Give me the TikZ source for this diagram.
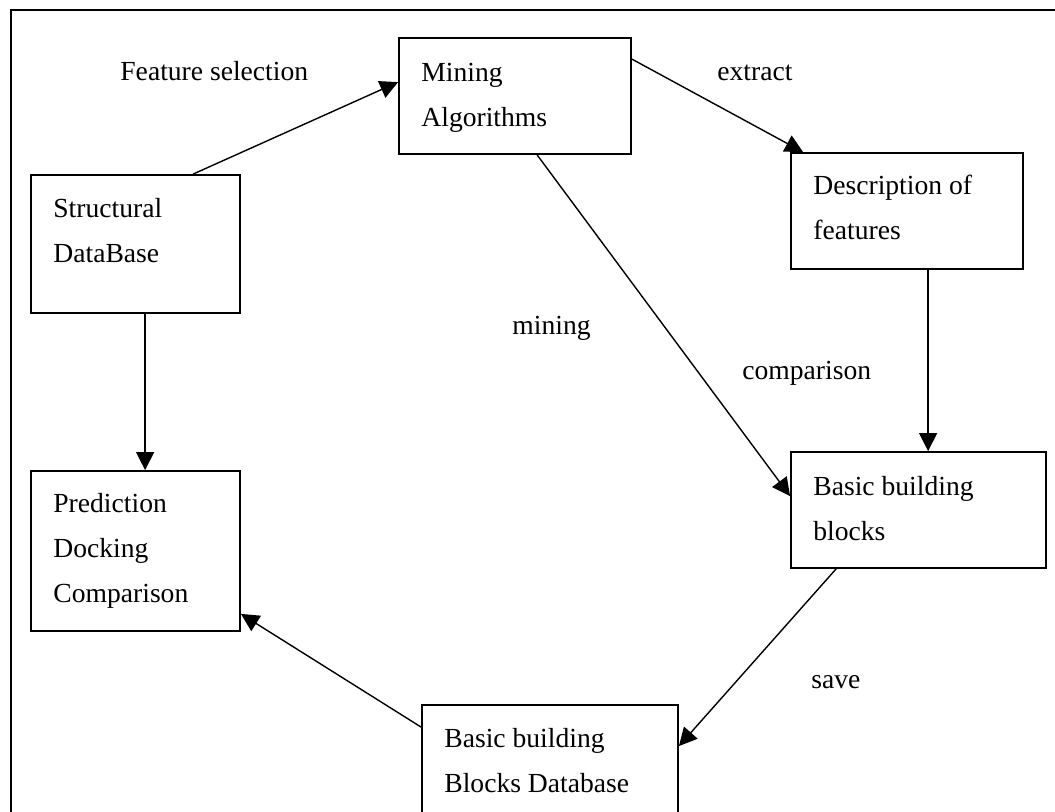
\documentclass[tikz,border=0pt]{standalone}
\usepackage{fontspec}
\setmainfont{Liberation Serif}
\usetikzlibrary{arrows.meta}
\tikzset{
  box/.style={draw, line width=0.9pt, rectangle, inner sep=0pt, fill=none},
  lbl/.style={anchor=base west, inner sep=0pt, font=\fontsize{13.8}{22.5}\selectfont},
  conn/.style={line width=0.7pt, -{Triangle[length=9pt,width=9pt]}},
  frameline/.style={line width=1pt}
}
\begin{document}
\begin{tikzpicture}[x=0.5pt,y=-0.5pt]
\useasboundingbox (0,0) rectangle (1055,812);
\clip (0,0) rectangle (1055,812);
\draw[frameline] (11,840) -- (11,10) -- (1070,10);
% boxes
\node[box, minimum width=116pt, minimum height=58pt] (mining) at (515,96) {};
\node[box, minimum width=104.5pt, minimum height=69pt] (struct) at (135.5,244) {};
\node[box, minimum width=104.5pt, minimum height=80pt] (pred) at (135.5,551) {};
\node[box, minimum width=116pt, minimum height=58pt] (desc) at (907,211) {};
\node[box, minimum width=127.5pt, minimum height=58pt] (bbb) at (918.5,510) {};
\node[box, minimum width=128pt, minimum height=72.5pt] (bbd) at (550,777.5) {};
% box texts
\node[lbl] (tmining) at (421,82) {\parbox[t]{110pt}{Mining\\Algorithms}};
\node[lbl] (tstruct) at (53,218) {\parbox[t]{95pt}{Structural\\DataBase}};
\node[lbl] (tpred) at (53,513) {\parbox[t]{95pt}{Prediction\\Docking\\Comparison}};
\node[lbl] (tdesc) at (813,195) {\parbox[t]{110pt}{Description of\\features}};
\node[lbl] (tbbb) at (813,495) {\parbox[t]{115pt}{Basic building\\blocks}};
\node[lbl] (tbbd) at (444,747) {\parbox[t]{115pt}{Basic building\\Blocks Database}};
% edge labels
\node[lbl] (lfeat) at (120,81) {Feature selection};
\node[lbl] (lextract) at (717,81) {extract};
\node[lbl] (lmining) at (512,335) {mining};
\node[lbl] (lcomp) at (742,380) {comparison};
\node[lbl] (lsave) at (811,688) {save};
% connectors
\draw[conn] ([xshift=81.5pt]struct.north west) -- ([yshift=-22.5pt]mining.north west);
\draw[conn] ([yshift=-11pt]mining.north east) -- ([xshift=6.5pt]desc.north west);
\draw[conn] ([xshift=69.5pt]mining.south west) -- ([yshift=-22.5pt]bbb.north west);
\draw[conn] ([xshift=69pt]desc.south west) -- ([xshift=69pt]bbb.north west);
\draw[conn] ([xshift=23pt]bbb.south west) -- ([yshift=-21pt]bbd.north east);
\draw[conn] ([yshift=-11.5pt]bbd.north west) -- ([yshift=9pt]pred.south east);
\draw[conn] ([xshift=57.5pt]struct.south west) -- ([xshift=57.5pt]pred.north west);
\end{tikzpicture}
\end{document}
